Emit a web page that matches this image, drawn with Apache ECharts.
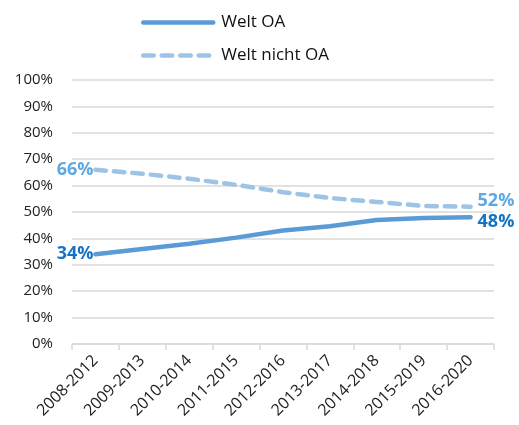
<!DOCTYPE html>
<html>
<head>
<meta charset="utf-8">
<script src="https://cdn.jsdelivr.net/npm/echarts@6/dist/echarts.min.js"></script>
<style>
  html, body { margin: 0; padding: 0; background: #fff; }
  #chart { width: 519px; height: 425px; }
</style>
</head>
<body>
<div id="chart"></div>
<script>
// Zeiträume (5-Jahres-Fenster)
var periods = ['2008-2012', '2009-2013', '2010-2014', '2011-2015', '2012-2016',
               '2013-2017', '2014-2018', '2015-2019', '2016-2020'];
// Anteil Open Access (%)
var weltOA = [34, 36, 38, 40.3, 43, 44.6, 47, 47.7, 48];
// Anteil nicht Open Access (%)
var weltNichtOA = [66, 64.5, 62.6, 60.3, 57.5, 55.3, 53.8, 52.3, 52];
// Beschriftungen der y-Achse
var yTicks = ['0%', '10%', '20%', '30%', '40%', '50%', '60%', '70%', '80%', '90%', '100%'];

var font = '"Open Sans", sans-serif';

// Wertbeschriftungen am ersten und letzten Punkt einer Reihe;
// dy schiebt die rechte Beschriftung etwas nach oben/unten
function endLabels(values, color, dy) {
  var last = values.length - 1;
  function mark(i, pos, dist, off) {
    return {
      coord: [i, values[i]],
      label: {
        show: true,
        position: pos,
        distance: dist,
        offset: [0, off],
        formatter: Math.round(values[i]) + '%',
        color: color,
        fontWeight: 'bold',
        fontSize: 18,
        fontFamily: font
      }
    };
  }
  return {
    symbol: 'circle',
    symbolSize: 0,
    silent: true,
    data: [mark(0, 'left', 2, 0), mark(last, 'right', 7, dy)]
  };
}

var chart = echarts.init(document.getElementById('chart'));
chart.setOption({
  animation: false,
  backgroundColor: '#ffffff',
  legend: {
    orient: 'vertical',
    left: 136,
    top: 9,
    itemWidth: 70,
    itemHeight: 14,
    itemGap: 16,
    lineStyle: { width: 4.5 },
    itemStyle: { opacity: 0 },
    textStyle: { fontSize: 17, color: '#111', fontFamily: font, padding: [0, 0, 0, 3] },
    data: ['Welt OA', 'Welt nicht OA']
  },
  grid: { left: 72, right: 25, top: 80, bottom: 81, containLabel: false },
  xAxis: {
    type: 'category',
    data: periods,
    boundaryGap: true,
    axisLine: { lineStyle: { color: '#d9d9d9', width: 1.5 } },
    axisTick: { show: true, length: 6, lineStyle: { color: '#d9d9d9', width: 1.5 } },
    axisLabel: { rotate: 45, fontSize: 16, color: '#222', fontFamily: font, margin: 14 }
  },
  yAxis: {
    type: 'value',
    min: 0,
    max: 100,
    interval: 10,
    axisLine: { show: false },
    axisTick: { show: false },
    splitLine: { lineStyle: { color: '#d9d9d9', width: 1.5 } },
    axisLabel: {
      fontSize: 15, color: '#222', fontFamily: font, margin: 19,
      formatter: function (v) { return yTicks[Math.round(v / 10)]; }
    }
  },
  series: [
    {
      name: 'Welt OA',
      type: 'line',
      data: weltOA,
      symbol: 'none',
      lineStyle: { color: '#5b9bd5', width: 4.5, cap: 'round' },
      itemStyle: { color: '#5b9bd5' },
      markPoint: endLabels(weltOA, '#1573c6', 5)
    },
    {
      name: 'Welt nicht OA',
      type: 'line',
      data: weltNichtOA,
      symbol: 'none',
      lineStyle: { color: '#9dc3e6', width: 4.5, type: [10.5, 8], cap: 'round' },
      itemStyle: { color: '#9dc3e6' },
      markPoint: endLabels(weltNichtOA, '#5ea8e4', -6)
    }
  ]
});
</script>
</body>
</html>
